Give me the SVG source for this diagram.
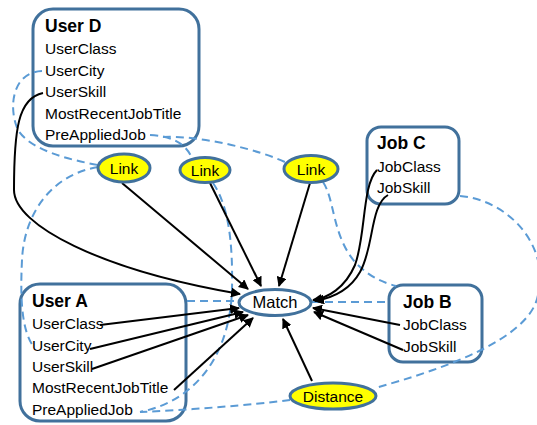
<svg xmlns="http://www.w3.org/2000/svg" width="537" height="425" viewBox="0 0 537 425">
<style>
.box{fill:#fff;stroke:#41719C;stroke-width:3}
.ell{stroke:#41719C;stroke-width:3}
.yel{fill:#FFFF00}
.wht{fill:#fff}
text{font-family:"Liberation Sans",Arial,sans-serif;font-size:15.5px;fill:#000}
.title{font-weight:bold;font-size:17.5px}
.mid{text-anchor:middle}
.dash{fill:none;stroke:#5B9BD5;stroke-width:2;stroke-dasharray:8,5}
.arr{fill:none;stroke:#000;stroke-width:2;marker-end:url(#ah)}
</style>
<defs>
<marker id="ah" viewBox="0 0 10 10" refX="9" refY="5" markerWidth="5" markerHeight="5" orient="auto" markerUnits="strokeWidth">
<path d="M0,0 L10,5 L0,10 z" fill="#000"/>
</marker>
</defs>
<rect width="537" height="425" fill="#fff"/>
<g id="userD">
<rect class="box" x="33" y="9" width="166" height="137" rx="20"/>
<text class="title" x="45" y="32">User D</text>
<text x="45" y="54">UserClass</text>
<text x="45" y="76">UserCity</text>
<text x="45" y="97">UserSkill</text>
<text x="45" y="119">MostRecentJobTitle</text>
<text x="45" y="140">PreAppliedJob</text>
</g>
<g id="userA">
<rect class="box" x="20" y="284" width="166" height="137" rx="20"/>
<text class="title" x="32" y="307">User A</text>
<text x="32" y="329">UserClass</text>
<text x="32" y="351">UserCity</text>
<text x="32" y="372">UserSkill</text>
<text x="32" y="393">MostRecentJobTitle</text>
<text x="32" y="415">PreAppliedJob</text>
</g>
<g id="jobC">
<rect class="box" x="367" y="127" width="92" height="77" rx="14"/>
<text class="title" x="377" y="149">Job C</text>
<text x="377" y="172">JobClass</text>
<text x="377" y="193">JobSkill</text>
</g>
<g id="jobB">
<rect class="box" x="389" y="285" width="93" height="77" rx="14"/>
<text class="title" x="403" y="308">Job B</text>
<text x="403" y="330">JobClass</text>
<text x="403" y="352">JobSkill</text>
</g>
<g id="connectors">
<path class="dash" d="M42,71 C12,72 8,108 18,130 C30,150 70,160 98,165"/>
<path class="dash" d="M98,167 C50,175 24,215 22,260 C20,300 22,330 33,346"/>
<path class="dash" d="M150,135 C170,136 185,142 192,158"/>
<path class="dash" d="M213,183 C228,205 233,240 232,290 C230,350 200,400 140,412"/>
<path class="dash" d="M163,137 C200,135 260,150 287,163"/>
<path class="dash" d="M323,182 C335,200 332,235 355,262 C370,278 385,283 396,286"/>
<path class="dash" d="M460,196 C508,200 550,245 538,295 C530,340 440,370 375,388"/>
<path class="dash" d="M290,400 C250,405 190,410 140,412"/>
<path class="dash" d="M187,301 L238,301"/>
<path class="dash" d="M312,302 L388,302"/>
<path class="arr" d="M43,93 C18,98 14,130 14,190 C14,225 100,270 240,294"/>
<path class="arr" d="M122,183 L248,289"/>
<path class="arr" d="M210,183 L261,286"/>
<path class="arr" d="M310,183 L279,286"/>
<path class="arr" d="M377,170 C362,185 366,235 355,265 C345,288 328,298 313,300"/>
<path class="arr" d="M388,195 C370,205 374,248 360,272 C350,290 332,298 315,301"/>
<path class="arr" d="M400,325 L313,308"/>
<path class="arr" d="M403,350 L314,312"/>
<path class="arr" d="M312,381 L283,319"/>
<path class="arr" d="M100,325 L239,308"/>
<path class="arr" d="M90,349 L243,312"/>
<path class="arr" d="M92,369 L248,315"/>
<path class="arr" d="M174,390 L253,318"/>
</g>
<g id="link1">
<ellipse class="ell yel" cx="124" cy="168" rx="26" ry="14"/>
<text class="mid" x="124" y="173.5">Link</text>
</g>
<g id="link2">
<ellipse class="ell yel" cx="205" cy="170" rx="25" ry="12.5"/>
<text class="mid" x="205" y="175.5">Link</text>
</g>
<g id="link3">
<ellipse class="ell yel" cx="311" cy="169" rx="27" ry="13.5"/>
<text class="mid" x="311" y="174.5">Link</text>
</g>
<g id="match">
<ellipse class="ell wht" cx="275" cy="302.5" rx="36" ry="13"/>
<text class="mid" x="275" y="308" style="font-size:16.5px">Match</text>
</g>
<g id="distance">
<ellipse class="ell yel" cx="333" cy="396" rx="43" ry="13"/>
<text class="mid" x="333" y="401.5">Distance</text>
</g>
</svg>
